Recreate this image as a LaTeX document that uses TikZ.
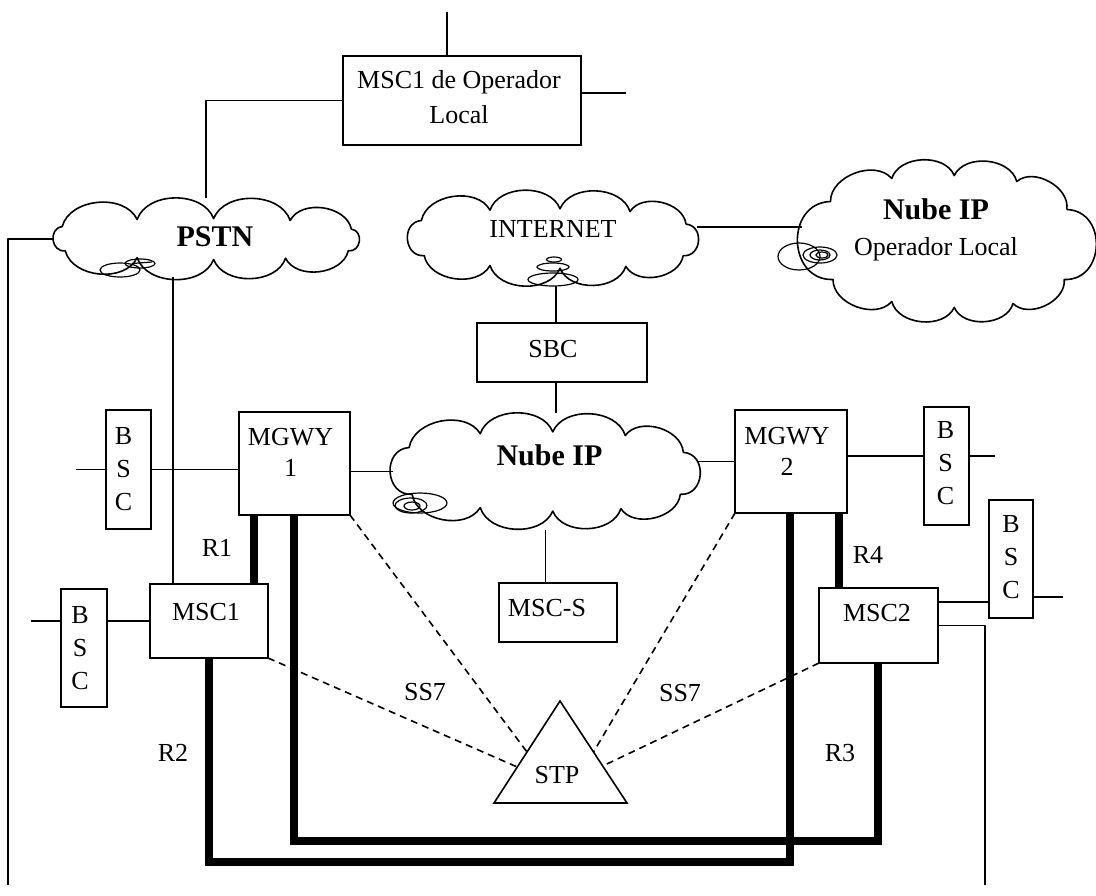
\documentclass[tikz,border=0pt]{standalone}
\usepackage{fontspec}
\setmainfont{Liberation Serif}
\usetikzlibrary{calc}
\newcommand{\mycloud}[3]{%
 \begin{scope}[shift={(#1.center)}, x=#2, y=#3]
 \draw[ln] (0.95,-0.32) to[endpuff] (0.93,0.38) to[puff] (0.52,0.62) to[puff] (0.05,0.66)
   to[puff] (-0.45,0.60) to[puff] (-0.92,0.38) to[endpuff] (-0.94,-0.40)
   to[puff] (-0.45,-0.63) to[puff] (0.05,-0.66) to[puff] (0.55,-0.60) to[puff] (0.95,-0.32);
 \end{scope}}
\begin{document}
\begin{tikzpicture}[x=0.5pt,y=-0.5pt,
 ln/.style={line width=0.8pt, line join=round},
 puff/.style={bend left=70},
 endpuff/.style={bend left=90, looseness=1.5},
 thk/.style={line width=3.75pt, line join=miter},
 dsh/.style={line width=0.8pt, dash pattern=on 3.5pt off 2.5pt},
 box/.style={draw, line width=0.8pt, rectangle, inner sep=0pt, outer sep=0pt},
 cldarea/.style={rectangle, inner sep=0pt, outer sep=0pt},
 txt/.style={font=\fontsize{13}{15.5}\selectfont, align=center, inner sep=0pt},
 bsctxt/.style={font=\fontsize{13}{16.5}\selectfont, align=center, inner sep=0pt},
 big/.style={font=\fontsize{15}{18}\selectfont\bfseries, inner sep=0pt},
 sp/.style={line width=0.6pt}]
\useasboundingbox (0,0) rectangle (1096,895);

% boxes
\node[box, minimum width=119pt, minimum height=44.5pt,
  label={[txt, font=\fontsize{13}{17.5}\selectfont, xshift=-1.5pt, yshift=1.5pt]center:{MSC1 de Operador\\Local}}] (msclocal) at (462,100.5) {};
\node[box, minimum width=85pt, minimum height=29.5pt,
  label={[txt, xshift=-4.5pt, yshift=1.75pt]center:SBC}] (sbc) at (562,352.5) {};
\node[box, minimum width=55.5pt, minimum height=51.5pt,
  label={[txt, xshift=-2pt, yshift=5.5pt]center:{MGWY\\1}}] (mgwy1) at (294.5,463.5) {};
\node[box, minimum width=56pt, minimum height=51.5pt,
  label={[txt, xshift=-2pt, yshift=5.25pt]center:{MGWY\\2}}] (mgwy2) at (791,461.5) {};
\node[box, minimum width=59pt, minimum height=37pt,
  label={[txt, xshift=-1.5pt, yshift=4.5pt]center:MSC1}] (msc1) at (209,621) {};
\node[box, minimum width=59.5pt, minimum height=37.5pt,
  label={[txt, xshift=-0.75pt, yshift=6.25pt]center:MSC2}] (msc2) at (878.5,625.5) {};
\node[box, minimum width=59pt, minimum height=29.5pt,
  label={[txt, xshift=-5.5pt, yshift=2.25pt]center:MSC-S}] (mscs) at (558,612.5) {};
\node[box, minimum width=22.5pt, minimum height=59.5pt,
  label={[bsctxt, xshift=-2.5pt]center:{B\\S\\C}}] (bsc1) at (128.5,469.5) {};
\node[box, minimum width=23pt, minimum height=59pt,
  label={[bsctxt, xshift=-2pt]center:{B\\S\\C}}] (bsc2) at (84,648) {};
\node[box, minimum width=22.5pt, minimum height=59pt,
  label={[bsctxt, xshift=-0.5pt, yshift=1.5pt]center:{B\\S\\C}}] (bsc3) at (946.5,466) {};
\node[box, minimum width=22pt, minimum height=59pt,
  label={[bsctxt, yshift=1pt]center:{B\\S\\C}}] (bsc4) at (1011,559) {};

% clouds: named areas with text, outlines drawn as puffs
\node[cldarea, minimum width=153pt, minimum height=41pt,
  label={[big, xshift=4.5pt, yshift=1pt]center:PSTN}] (pstn) at (206,239) {};
\node[cldarea, minimum width=144pt, minimum height=48.5pt,
  label={[txt, yshift=4.75pt]center:INTERNET}] (internet) at (553,238.5) {};
\node[cldarea, minimum width=146pt, minimum height=81.5pt,
  label={[txt, font=\fontsize{13}{18}\selectfont, xshift=-6pt, yshift=5.75pt]center:{{\fontsize{15}{18}\selectfont\bfseries Nube IP}\\Operador Local}}] (nubelocal) at (948,241.5) {};
\node[cldarea, minimum width=152.5pt, minimum height=58.5pt,
  label={[big, xshift=2pt, yshift=8pt]center:Nube IP}] (nube) at (545.5,471.5) {};
\mycloud{pstn}{76.5pt}{-15.5pt}
\mycloud{internet}{70pt}{-22.5pt}
\mycloud{nubelocal}{62.5pt}{-50pt}
\mycloud{nube}{72.5pt}{-30pt}

% spiral marks on clouds
\draw[sp] (120,270) ellipse [x radius=20, y radius=7];
\draw[sp] (140,263.5) ellipse [x radius=15, y radius=4.5];
\draw[sp] (132,263.5) -- (152,262);
\draw[sp] (554,259.5) ellipse [x radius=7.5, y radius=2.5];
\draw[sp] (553,267) ellipse [x radius=16, y radius=4];
\draw[sp] (553,279.5) ellipse [x radius=25, y radius=6.5];
\draw[sp] (799,256.5) ellipse [x radius=21, y radius=13.5];
\draw[sp] (820,255) ellipse [x radius=17, y radius=8];
\draw[sp] (820,255) ellipse [x radius=10, y radius=5];
\draw[sp] (822,255) ellipse [x radius=6, y radius=3];
\draw[sp] (420,503) ellipse [x radius=27, y radius=10];
\draw[sp] (411,505.5) ellipse [x radius=16, y radius=7.5];
\draw[sp] (412,506) ellipse [x radius=8, y radius=4];

% STP triangle
\coordinate (tA) at (560,701);
\coordinate (tL) at (494,803);
\coordinate (tR) at (627,803);
\draw[ln, line join=miter] (tA) -- (tL) -- (tR) -- cycle;
\node[txt] (stp) at (557,775) {STP};

% labels
\node[txt] (r1) at (217,548) {R1};
\node[txt] (r2) at (173,753) {R2};
\node[txt] (r3) at (840,753) {R3};
\node[txt] (r4) at (868,555) {R4};
\node[txt] (ss7a) at (425,692) {SS7};
\node[txt] (ss7b) at (680,693) {SS7};

% thin connectors
\coordinate (topend) at (447,12);
\draw[ln] (topend) -- (topend |- msclocal.north);
\coordinate (mlr) at (626,93);
\draw[ln] (mlr) -- (mlr -| msclocal.east);
\draw[ln] (msclocal.west) -| (pstn.north);
\coordinate (lb) at (8,885);
\draw[ln] (pstn.west) -| (lb);
\coordinate (pb) at (173,277);
\draw[ln] (pb) -- (msc1.north -| pb);
\coordinate (s1) at (76,0);
\draw[ln] (bsc1.west) -- (bsc1.west -| s1);
\draw[ln] (bsc1.east) -- (bsc1.east -| mgwy1.west);
\draw[ln] (nube.west) -- (nube.west -| mgwy1.east);
\draw[ln] (mgwy2.west) -- (mgwy2.west -| nube.east);
\coordinate (y3) at (0,456);
\draw[ln] (mgwy2.east |- y3) -- (bsc3.west |- y3);
\coordinate (s3) at (995,456);
\draw[ln] (bsc3.east |- s3) -- (s3);
\coordinate (ib0) at (556,286);
\draw[ln] (ib0) -- (ib0 |- sbc.north);
\draw[ln] (ib0 |- sbc.south) -- (ib0 |- nube.north);
\draw[ln] (nube.south) -- (nube.south |- mscs.north);
\coordinate (iy) at (0,227);
\draw[ln] (internet.east |- iy) -- (nubelocal.west |- iy);
\draw[ln] (msc1.west) -- (msc1.west -| bsc2.east);
\coordinate (s2) at (31,0);
\draw[ln] (msc1.west -| bsc2.west) -- (msc1.west -| s2);
\coordinate (y4) at (0,602);
\draw[ln] (msc2.east |- y4) -- (bsc4.west |- y4);
\coordinate (s4) at (1063,597);
\draw[ln] (bsc4.east |- s4) -- (s4);
\coordinate (rb) at (985,885);
\draw[ln] (msc2.east) -| (rb);

% thick trunks
\coordinate (r1x) at (254,0);
\draw[thk] (mgwy1.south -| r1x) -- (msc1.north -| r1x);
\coordinate (r4x) at (839,0);
\draw[thk] (mgwy2.south -| r4x) -- (msc2.north -| r4x);
\coordinate (ia) at (294,841);
\coordinate (ib) at (878,841);
\draw[thk] (mgwy1.south -| ia) -- (ia) -- (ib) -- (msc2.south -| ib);
\coordinate (oa) at (209,862);
\coordinate (ob) at (790,862);
\draw[thk] (msc1.south -| oa) -- (oa) -- (ob) -- (mgwy2.south -| ob);

% SS7 dashed links
\draw[dsh] (mgwy1.south east) -- ($(tA)!0.5!(tL)$);
\draw[dsh] (msc1.south east) -- ($(tA)!0.647!(tL)$);
\draw[dsh] (mgwy2.south west) -- ($(tA)!0.5!(tR)$);
\draw[dsh] (msc2.south west) -- ($(tA)!0.637!(tR)$);
\end{tikzpicture}
\end{document}
